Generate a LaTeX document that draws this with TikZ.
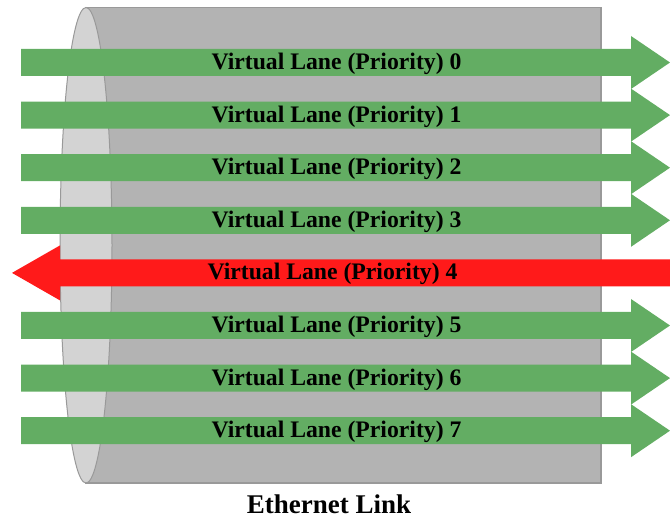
\documentclass[tikz,border=0pt]{standalone}
\usepackage{fontspec}
\setmainfont{Liberation Serif}
\definecolor{lanegreen}{HTML}{63AD63}
\definecolor{lanered}{HTML}{FF1A1A}
\definecolor{linkbody}{HTML}{B3B3B3}
\definecolor{linkface}{HTML}{D3D3D3}
\definecolor{linkedge}{HTML}{999999}
\tikzset{
  lane/.style={fill=lanegreen},
  backlane/.style={fill=lanered},
  lanetext/.style={font=\fontsize{23.7}{28}\selectfont\bfseries, anchor=base, inner sep=0pt},
}
\begin{document}
\begin{tikzpicture}[x=1pt,y=-1pt]
      \useasboundingbox (0,0) rectangle (670,518);
      % the link
      \draw[linkedge, fill=linkbody, line width=1.2pt] (86,7.5) rectangle (601,483);
      \draw[linkedge, fill=linkface, line width=1pt] (86,245.25) ellipse (26 and 237.75);
      \node[lanetext, font=\fontsize{27}{32}\selectfont\bfseries] (link) at (329,513.5) {Ethernet Link};
      % the lanes
      \begin{scope}
        \fill[lane] (21,49) -- ++(610,0) -- ++(0,-13) -- ++(39,26.5) -- ++(-39,26.5) -- ++(0,-13) -- ++(-610,0) -- cycle;
        \fill[lane] (21,101.6) -- ++(610,0) -- ++(0,-13) -- ++(39,26.5) -- ++(-39,26.5) -- ++(0,-13) -- ++(-610,0) -- cycle;
        \fill[lane] (21,154.2) -- ++(610,0) -- ++(0,-13) -- ++(39,26.5) -- ++(-39,26.5) -- ++(0,-13) -- ++(-610,0) -- cycle;
        \fill[lane] (21,206.8) -- ++(610,0) -- ++(0,-13) -- ++(39,26.5) -- ++(-39,26.5) -- ++(0,-13) -- ++(-610,0) -- cycle;
        \fill[backlane] (670,259.4) -- ++(-610,0) -- ++(0,-14) -- ++(-48,27.5) -- ++(48,27.5) -- ++(0,-14) -- ++(610,0) -- cycle;
        \fill[lane] (21,312) -- ++(610,0) -- ++(0,-13) -- ++(39,26.5) -- ++(-39,26.5) -- ++(0,-13) -- ++(-610,0) -- cycle;
        \fill[lane] (21,364.6) -- ++(610,0) -- ++(0,-13) -- ++(39,26.5) -- ++(-39,26.5) -- ++(0,-13) -- ++(-610,0) -- cycle;
        \fill[lane] (21,417.2) -- ++(610,0) -- ++(0,-13) -- ++(39,26.5) -- ++(-39,26.5) -- ++(0,-13) -- ++(-610,0) -- cycle;
      \end{scope}
      \node[lanetext] (vl0) at (336.5,69.5) {Virtual Lane (Priority) 0};
      \node[lanetext] (vl1) at (336.5,122.1) {Virtual Lane (Priority) 1};
      \node[lanetext] (vl2) at (336.5,174.7) {Virtual Lane (Priority) 2};
      \node[lanetext] (vl3) at (336.5,227.3) {Virtual Lane (Priority) 3};
      \node[lanetext] (vl4) at (332.5,279.9) {Virtual Lane (Priority) 4};
      \node[lanetext] (vl5) at (336.5,332.5) {Virtual Lane (Priority) 5};
      \node[lanetext] (vl6) at (336.5,385.1) {Virtual Lane (Priority) 6};
      \node[lanetext] (vl7) at (336.5,437.7) {Virtual Lane (Priority) 7};
    \end{tikzpicture}
\end{document}
